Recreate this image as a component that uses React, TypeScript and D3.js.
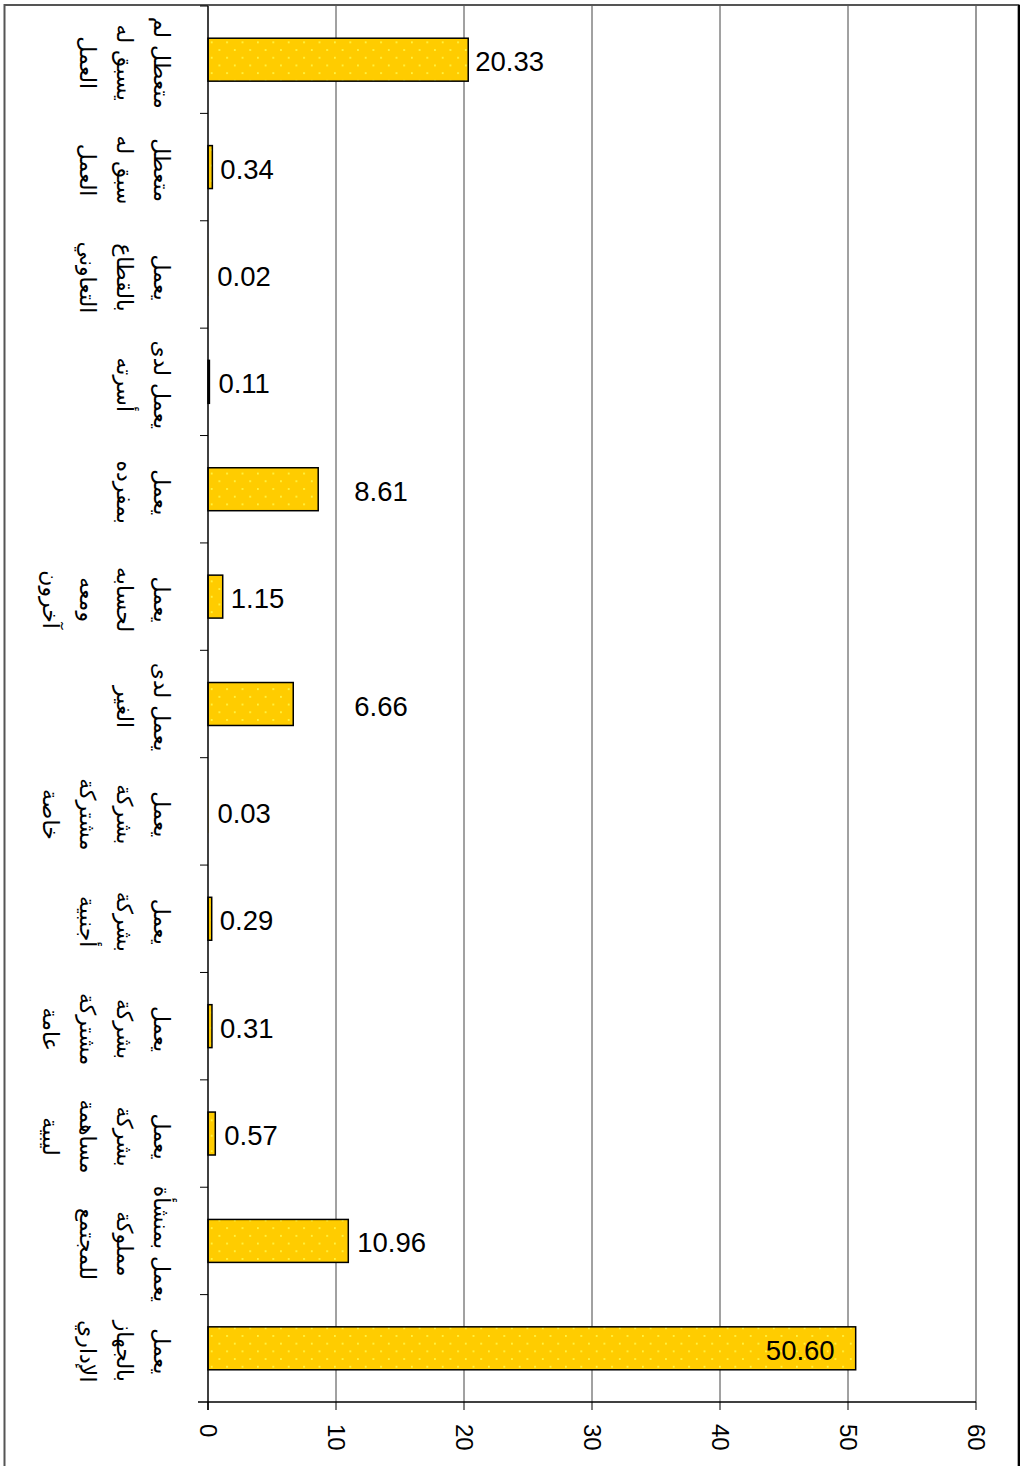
import React from "react";
import * as d3 from "d3";

const categoryLines: string[][] = [
  ["متعطل لم", "يسبق له", "العمل"],
  ["متعطل", "سبق له", "العمل"],
  ["يعمل", "بالقطاع", "التعاوني"],
  ["يعمل لدى", "أسرته"],
  ["يعمل", "بمفرده"],
  ["يعمل", "لحسابه", "ومعه", "آخرون"],
  ["يعمل لدى", "الغير"],
  ["يعمل", "بشركة", "مشتركة", "خاصة"],
  ["يعمل", "بشركة", "أجنبية"],
  ["يعمل", "بشركة", "مشتركة", "عامة"],
  ["يعمل", "بشركة", "مساهمة", "ليبية"],
  ["يعمل بمنشأة", "مملوكة", "للمجتمع"],
  ["يعمل", "بالجهاز", "الإداري"],
];

const values: number[] = [20.33, 0.34, 0.02, 0.11, 8.61, 1.15, 6.66, 0.03, 0.29, 0.31, 0.57, 10.96, 50.6];
const valueLabels: string[] = ["20.33", "0.34", "0.02", "0.11", "8.61", "1.15", "6.66", "0.03", "0.29", "0.31", "0.57", "10.96", "50.60"];
const tickValues: number[] = [0, 10, 20, 30, 40, 50, 60];

export default function App() {
  const W = 1021;
  const H = 1466;
  const x = d3.scaleLinear().domain([0, 60]).range([208, 976]);
  const idx = values.map((_, i) => i);
  const y = d3.scaleBand<number>().domain(idx).range([6, 1402]).paddingInner(0.6).paddingOuter(0.3);
  const yb = d3.scaleBand<number>().domain(idx).range([6, 1402]).padding(0);
  // label offsets (Excel placement quirks)
  const labelDx = [7, 8, 9, 9, 36, 8, 61, 9, 8, 8, 9, 9, -21];
  const numFont = "'Liberation Sans', Arial, sans-serif";
  return (
    <svg width={W} height={H} style={{ position: "absolute", left: 0, top: 0, background: "#fff" }}>
      <defs>
        <pattern id="dots" width={15.4} height={15.4} patternUnits="userSpaceOnUse">
          <rect width={15.4} height={15.4} fill="#FFCC00" />
          <circle cx={3.8} cy={3.8} r={0.9} fill="#FFFF55" />
          <circle cx={11.5} cy={11.5} r={0.9} fill="#FFFF55" />
        </pattern>
      </defs>
      {/* outer frame */}
      <rect x={4.5} y={5} width={1014} height={1500} fill="none" stroke="#555" strokeWidth={2} />
      <line x1={1019} x2={1019} y1={5} y2={H} stroke="#000" strokeWidth={2} />
      {/* gridlines */}
      {tickValues.slice(1).map((t) => (
        <line key={t} x1={x(t)} x2={x(t)} y1={6} y2={1402}
          stroke={t === 60 ? "#999" : "#444"} strokeWidth={t === 60 ? 2 : 1} />
      ))}
      {/* bars */}
      {values.map((v, i) => {
        const w = x(v) - x(0);
        return (
          <rect key={i} x={x(0)} y={y(i)!} width={w} height={y.bandwidth()}
            fill="url(#dots)" stroke={w < 1 ? "none" : "#000"} strokeWidth={1.5} />
        );
      })}
      {/* axis lines */}
      <line x1={x(0)} x2={x(0)} y1={6} y2={1410} stroke="#000" strokeWidth={1.5} />
      <line x1={198} x2={x(60)} y1={1402} y2={1402} stroke="#000" strokeWidth={1.5} />
      {idx.map((i) => (
        <line key={i} x1={200} x2={x(0)} y1={yb(i)!} y2={yb(i)!} stroke="#000" strokeWidth={1} />
      ))}
      {tickValues.map((t) => (
        <line key={t} x1={x(t)} x2={x(t)} y1={1402} y2={1410} stroke="#000" strokeWidth={1} />
      ))}
      {/* tick labels */}
      {tickValues.map((t) => (
        <text key={t} transform={`translate(${x(t)},1424) rotate(90)`} fontFamily={numFont} fontSize={24}
          dominantBaseline="central" textAnchor="start" fill="#000">{t}</text>
      ))}
      {/* value labels */}
      {values.map((v, i) => (
        <text key={i} x={x(v) + labelDx[i]} y={yb(i)! + yb.bandwidth() / 2 + 2}
          textAnchor={labelDx[i] < 0 ? "end" : "start"} dominantBaseline="central"
          fontFamily={numFont} fontSize={27.5} fill="#000">{valueLabels[i]}</text>
      ))}
      {/* category labels */}
      {categoryLines.map((lines, i) => (
        <text key={i} transform={`translate(162,${yb(i)! + yb.bandwidth() / 2 + 3}) rotate(90)`}
          textAnchor="middle" dominantBaseline="central" fontFamily="'DejaVu Sans', sans-serif" fontSize={22} fill="#000">
          {lines.map((l, k) => (
            <tspan key={k} x={0} y={k * 37}>{l}</tspan>
          ))}
        </text>
      ))}
    </svg>
  );
}
